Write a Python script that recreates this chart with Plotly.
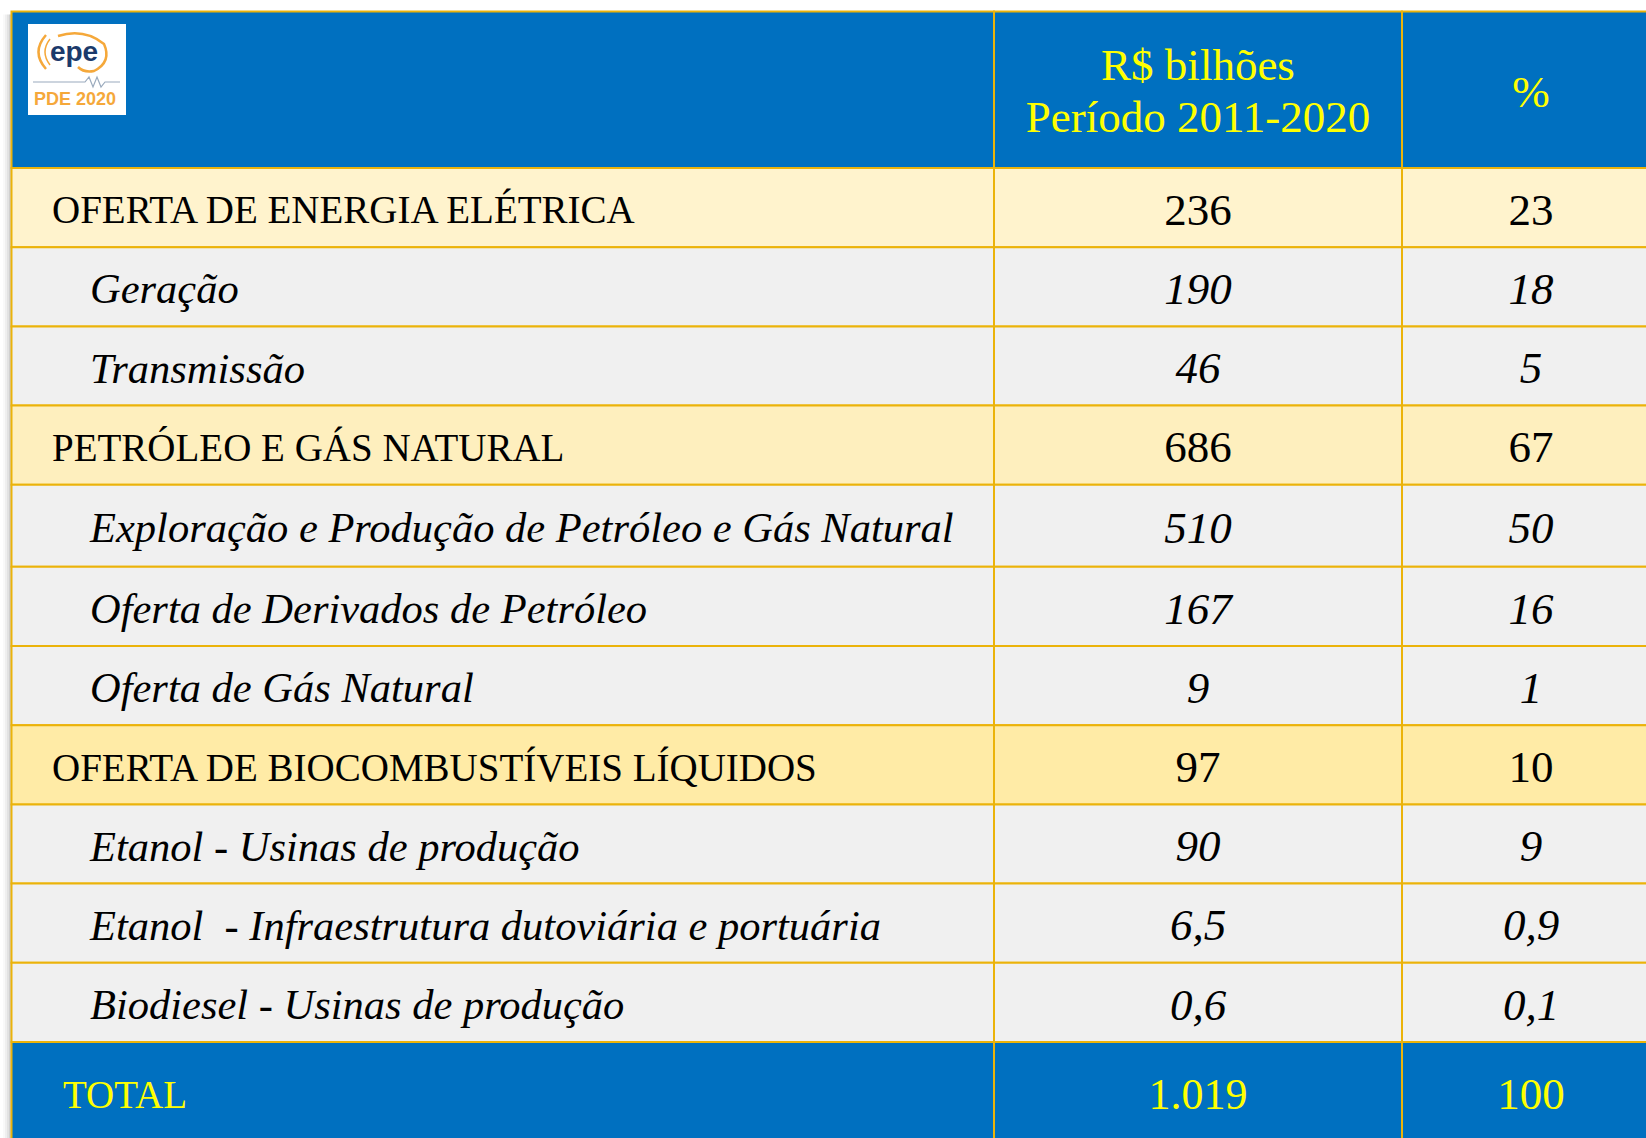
import plotly.graph_objects as go

# ---------------- data ----------------
header_value_lines = ["R$ bilhões", "Período 2011-2020"]
header_pct = "%"
row_labels = [
    "OFERTA DE ENERGIA ELÉTRICA",
    "Geração",
    "Transmissão",
    "PETRÓLEO E GÁS NATURAL",
    "Exploração e Produção de Petróleo e Gás Natural",
    "Oferta de Derivados de Petróleo",
    "Oferta de Gás Natural",
    "OFERTA DE BIOCOMBUSTÍVEIS LÍQUIDOS",
    "Etanol - Usinas de produção",
    "Etanol \u00a0- Infraestrutura dutoviária e portuária",
    "Biodiesel - Usinas de produção",
]
row_is_group = [True, False, False, True, False, False, False, True, False, False, False]
values_rs = ["236", "190", "46", "686", "510", "167", "9", "97", "90", "6,5", "0,6"]
values_pct = ["23", "18", "5", "67", "50", "16", "1", "10", "9", "0,9", "0,1"]
total_label = "TOTAL"
total_rs = "1.019"
total_pct = "100"

# ---------------- layout geometry ----------------
W, H = 1646, 1138
col_edges = [11.5, 994, 1402, 1662]
header_top, header_bottom = 11.5, 168
row_heights = [79.2, 79.2, 79.2, 79.2, 82, 79.2, 79.2, 79.2, 79.2, 79.2, 79.2]
total_height = 110

row_edges = [header_bottom]
for h in row_heights:
    row_edges.append(row_edges[-1] + h)
total_top = row_edges[-1]
total_bottom = total_top + total_height

BLUE = "#0070C0"
GOLD = "#EBB30A"
YELLOW = "#FFFF00"
GRAY = "#F0F0F0"
group_fills = ["#FFF3CD", "#FEEFBE", "#FFEBA6"]
FONT = "Liberation Serif"
FS_LABEL = 39
FS_ITALIC = 42.5
FS_NUM = 45

shapes = []
# left shadow
for i, op in enumerate([0.05, 0.08, 0.12, 0.18]):
    shapes.append(dict(type="rect", xref="x", yref="y", x0=3 + i * 2, x1=11.5,
                       y0=header_top + 3, y1=H + 5, fillcolor="#808080",
                       opacity=op, line=dict(width=0), layer="below"))

def cell(x0, x1, y0, y1, fill):
    shapes.append(dict(type="rect", xref="x", yref="y", x0=x0, x1=x1, y0=y0, y1=y1,
                       fillcolor=fill, line=dict(color=GOLD, width=2), layer="below"))

for c in range(3):
    cell(col_edges[c], col_edges[c + 1], header_top, header_bottom, BLUE)

gi = 0
fills = []
for r in range(len(row_labels)):
    if row_is_group[r]:
        fills.append(group_fills[gi]); gi += 1
    else:
        fills.append(GRAY)
for r in range(len(row_labels)):
    for c in range(3):
        cell(col_edges[c], col_edges[c + 1], row_edges[r], row_edges[r + 1], fills[r])
for c in range(3):
    cell(col_edges[c], col_edges[c + 1], total_top, total_bottom, BLUE)

# logo
shapes.append(dict(type="rect", xref="x", yref="y", x0=28, x1=126, y0=24, y1=115,
                   fillcolor="white", line=dict(width=0), layer="below"))
ORANGE = "#F5A83A"
for p, w in [("M 46 35 Q 31 52 46 69", 2.5), ("M 50 39 Q 40 52 50 65", 1.5),
             ("M 58 36 Q 84 28 104 44 Q 112 62 94 71 Q 84 73 78 67", 2.5)]:
    shapes.append(dict(type="path", xref="x", yref="y", path=p,
                       line=dict(color=ORANGE, width=w), layer="below"))
shapes.append(dict(type="path", xref="x", yref="y",
                   path="M 33 82 L 85 82 L 89 77 L 93 87 L 97 77 L 101 87 L 105 82 L 120 82",
                   line=dict(color="#9AAABD", width=1.2), layer="below"))

fig = go.Figure()

label_x = [52 if g else 90 for g in row_is_group]
row_centers = [(row_edges[i] + row_edges[i + 1]) / 2 + 6 for i in range(len(row_labels))]
x_val = (col_edges[1] + col_edges[2]) / 2
x_pct = (col_edges[2] + col_edges[3]) / 2 - 1

def add_text(xs, ys, texts, pos, color="black", style="normal", size=FS_LABEL, family=FONT, weight="normal"):
    fig.add_trace(go.Scatter(
        x=xs, y=ys, text=texts, mode="text", textposition=pos,
        textfont=dict(family=family, size=size, color=color, style=style, weight=weight),
        hoverinfo="skip", showlegend=False, cliponaxis=False))

grp_idx = [i for i, g in enumerate(row_is_group) if g]
sub_idx = [i for i, g in enumerate(row_is_group) if not g]

add_text([label_x[i] for i in grp_idx], [row_centers[i] for i in grp_idx],
         [row_labels[i] for i in grp_idx], "middle right")
add_text([label_x[i] for i in sub_idx], [row_centers[i] for i in sub_idx],
         [row_labels[i] for i in sub_idx], "middle right", style="italic", size=FS_ITALIC)
add_text([x_val] * len(grp_idx), [row_centers[i] for i in grp_idx],
         [values_rs[i] for i in grp_idx], "middle center", size=FS_NUM)
add_text([x_val] * len(sub_idx), [row_centers[i] for i in sub_idx],
         [values_rs[i] for i in sub_idx], "middle center", style="italic", size=FS_NUM)
add_text([x_pct] * len(grp_idx), [row_centers[i] for i in grp_idx],
         [values_pct[i] for i in grp_idx], "middle center", size=FS_NUM)
add_text([x_pct] * len(sub_idx), [row_centers[i] for i in sub_idx],
         [values_pct[i] for i in sub_idx], "middle center", style="italic", size=FS_NUM)

# header
add_text([x_val, x_val], [69, 121], header_value_lines, "middle center", color=YELLOW, size=FS_NUM)
add_text([x_pct], [96], [header_pct], "middle center", color=YELLOW, size=FS_NUM)

# total row
ty = 1098
add_text([63], [ty], [total_label], "middle right", color=YELLOW)
add_text([x_val], [ty], [total_rs], "middle center", color=YELLOW, size=FS_NUM - 1)
add_text([x_pct], [ty], [total_pct], "middle center", color=YELLOW, size=FS_NUM)

# logo text
add_text([74], [54], ["epe"], "middle center", color="#1B3A6B", size=28,
         family="Liberation Sans", weight="bold")
add_text([75], [100], ["PDE 2020"], "middle center", color=ORANGE, size=18,
         family="Liberation Sans", weight="bold")

fig.update_layout(
    width=W, height=H,
    margin=dict(l=0, r=0, t=0, b=0),
    paper_bgcolor="white", plot_bgcolor="rgba(0,0,0,0)",
    shapes=shapes,
    xaxis=dict(range=[0, W], visible=False, fixedrange=True),
    yaxis=dict(range=[H, 0], visible=False, fixedrange=True),
)

fig.write_html("out.html", config={"displayModeBar": False},
               post_script="document.body.style.margin='0';document.body.style.overflow='hidden';")
